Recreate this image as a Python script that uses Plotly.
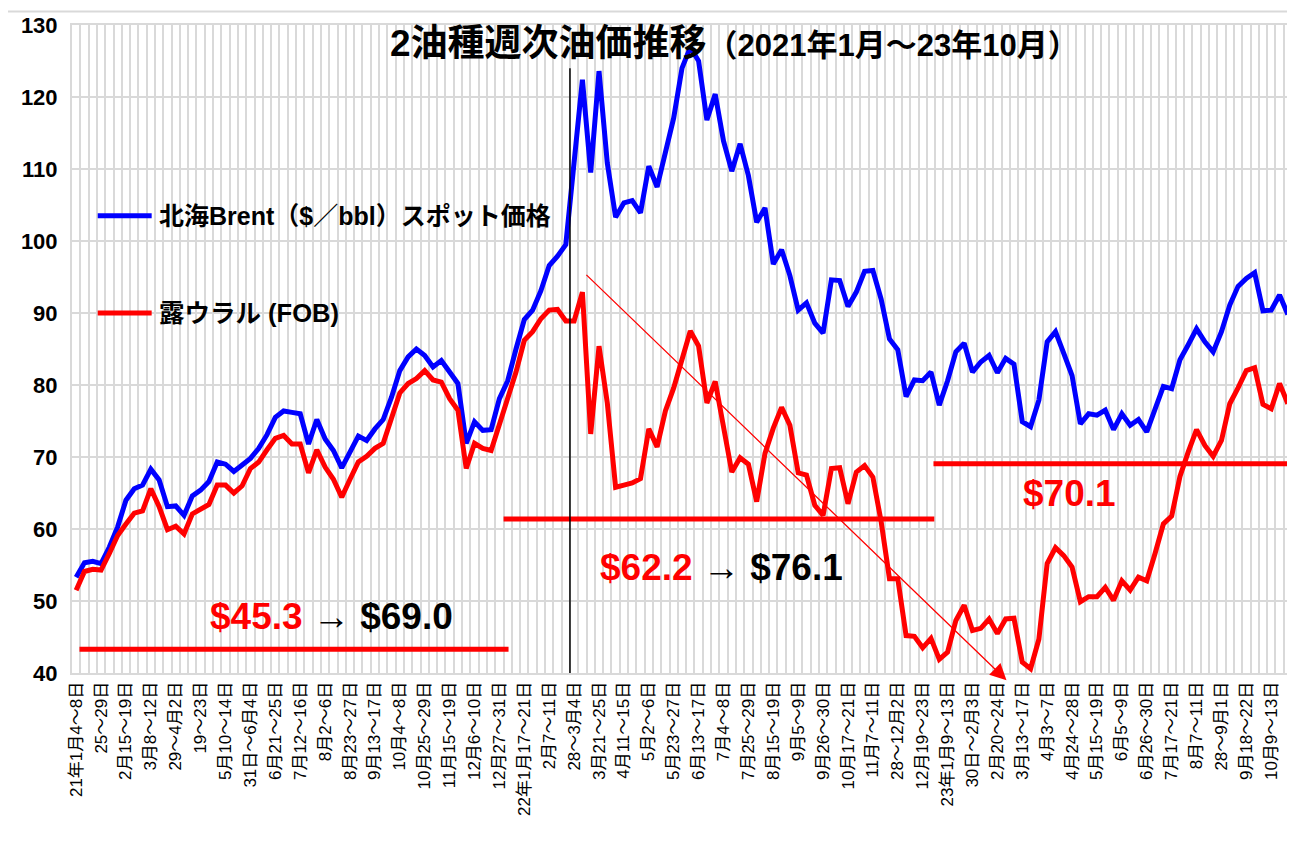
import plotly.graph_objects as go

# ---------------- data ----------------
brent = [53.3, 55.3, 55.5, 55.2, 57.5, 60.3, 64.0, 65.6, 66.1, 68.3,
         66.8, 63.1, 63.2, 61.9, 64.6, 65.4, 66.6, 69.3, 69.0, 68.0,
         68.9, 69.8, 71.2, 73.1, 75.5, 76.4, 76.2, 76.0, 71.8, 75.2,
         72.5, 70.9, 68.5, 70.7, 72.9, 72.3, 73.9, 75.2, 78.3, 82.0,
         83.9, 85.0, 84.1, 82.5, 83.4, 81.8, 80.2, 71.9, 74.9, 73.7,
         73.8, 78.1, 80.6, 85.0, 89.1, 90.4, 93.1, 96.6, 97.9, 99.5,
         111.0, 122.4, 109.5, 123.6, 110.8, 103.3, 105.3, 105.6, 103.9, 110.4,
         107.5, 112.3, 117.1, 124.0, 126.9, 125.0, 116.8, 120.4, 113.9, 109.7,
         113.5, 109.1, 102.6, 104.6, 96.8, 98.8, 95.2, 90.4, 91.4, 88.6,
         87.2, 94.6, 94.5, 90.9, 92.9, 95.8, 95.9, 91.9, 86.4, 84.9,
         78.4, 80.7, 80.6, 81.8, 77.2, 80.6, 84.6, 85.8, 81.8, 83.2,
         84.1, 81.7, 83.7, 82.9, 74.9, 74.2, 77.9, 86.0, 87.4, 84.4,
         81.3, 74.6, 76.0, 75.8, 76.5, 73.8, 76.0, 74.4, 75.2, 73.5,
         76.7, 79.8, 79.5, 83.5, 85.6, 87.8, 86.0, 84.6, 87.4, 91.1,
         93.7, 94.8, 95.6, 90.3, 90.4, 92.5, 89.8]

urals = [51.5, 54.1, 54.4, 54.3, 56.6, 59.1, 60.7, 62.2, 62.5, 65.6,
         63.1, 59.9, 60.4, 59.3, 62.1, 62.7, 63.4, 66.1, 66.1, 65.0,
         66.0, 68.4, 69.3, 71.0, 72.6, 73.0, 71.8, 71.8, 67.8, 71.0,
         68.6, 66.9, 64.4, 66.9, 69.3, 70.1, 71.2, 71.9, 75.6, 78.9,
         80.2, 80.9, 82.0, 80.7, 80.4, 78.1, 76.5, 68.4, 71.9, 71.2,
         70.9, 74.6, 77.9, 81.8, 86.2, 87.4, 89.2, 90.4, 90.5, 88.9,
         88.9, 92.9, 73.2, 85.4, 77.5, 65.8, 66.1, 66.4, 67.0, 73.9,
         71.4, 76.4, 79.6, 83.6, 87.5, 85.4, 77.5, 80.5, 74.5, 67.9,
         69.9, 69.0, 63.8, 70.5, 74.0, 76.9, 74.4, 67.8, 67.5, 63.3,
         61.9, 68.4, 68.5, 63.5, 67.9, 68.8, 67.2, 61.0, 53.1, 53.1,
         45.2, 45.1, 43.5, 44.8, 41.9, 42.9, 47.3, 49.4, 45.9, 46.2,
         47.5, 45.5, 47.5, 47.6, 41.5, 40.6, 44.7, 55.2, 57.4, 56.3,
         54.7, 49.9, 50.6, 50.6, 51.9, 50.1, 52.8, 51.5, 53.3, 52.8,
         56.6, 60.7, 61.8, 67.3, 70.7, 73.8, 71.6, 70.1, 72.3, 77.4,
         79.6, 82.0, 82.4, 77.3, 76.7, 80.2, 77.4]

tick_labels = [
    "21年1月4～8日", "25～29日", "2月15～19日", "3月8～12日", "29～4月2日",
    "19～23日", "5月10～14日", "31日～6月4日", "6月21～25日", "7月12～16日",
    "8月2～6日", "8月23～27日", "9月13～17日", "10月4～8日", "10月25～29日",
    "11月15～19日", "12月6～10日", "12月27～31日", "22年1月17～21日", "2月7～11日",
    "28～3月4日", "3月21～25日", "4月11～15日", "5月2～6日", "5月23～27日",
    "6月13～17日", "7月4～8日", "7月25～29日", "8月15～19日", "9月5～9日",
    "9月26～30日", "10月17～21日", "11月7～11日", "28～12月2日", "12月19～23日",
    "23年1月9～13日", "30日～2月3日", "2月20～24日", "3月13～17日", "4月3～7日",
    "4月24～28日", "5月15～19日", "6月5～9日", "6月26～30日", "7月17～21日",
    "8月7～11日", "28～9月1日", "9月18～22日", "10月9～13日",
]
tick_step = 3

series_names = ["北海Brent（$／bbl）スポット価格", "露ウラル (FOB)"]

# average levels of Urals over three periods: (start idx, end idx, level)
avg_lines = [(0.4, 52.1, 43.3), (51.5, 103.4, 61.4), (103.3, 146.3, 69.05)]
# label texts for the periods
period_texts = [("$45.3", " → ", "$69.0"), ("$62.2", " → ", "$76.1"), ("$70.1", "", "")]
period_text_pos = [(30.8, 47.9), (77.7, 54.7), (119.7, 65.0)]
# trend arrow (start idx, start value, end idx, end value)
trend_arrow = (61.3, 95.5, 112.1, 39.0)
# invasion marker (idx boundary)
event_idx = 59.5

BLUE = "#0000FF"
RED = "#FF0000"
GRID = "#d9d9d9"
FONT = "Liberation Sans, Noto Sans CJK JP, sans-serif"

x = list(range(len(brent)))

fig = go.Figure()
fig.add_trace(go.Scatter(x=x, y=brent, mode="lines", name=series_names[0],
                         line=dict(color=BLUE, width=5), showlegend=False))
fig.add_trace(go.Scatter(x=x, y=urals, mode="lines", name=series_names[1],
                         line=dict(color=RED, width=5), showlegend=False))

shapes = []
for x0, x1, lv in avg_lines:
    shapes.append(dict(type="line", xref="x", yref="y", x0=x0, x1=x1, y0=lv, y1=lv,
                       line=dict(color=RED, width=5), layer="above"))
shapes.append(dict(type="line", xref="x", yref="y", x0=event_idx, x1=event_idx,
                   y0=38.6, y1=124.0, line=dict(color="black", width=1.5)))
# legend samples
shapes.append(dict(type="line", xref="x", yref="y", x0=2.6, x1=9.1, y0=103.5, y1=103.5,
                   line=dict(color=BLUE, width=5)))
shapes.append(dict(type="line", xref="x", yref="y", x0=2.6, x1=9.1, y0=90.0, y1=90.0,
                   line=dict(color=RED, width=5)))
# top border of chart area
shapes.append(dict(type="line", xref="paper", yref="paper", x0=-0.06, x1=1.01,
                   y0=1.021, y1=1.021, line=dict(color=GRID, width=2)))

annotations = []
for (a, arr, b), (px, py) in zip(period_texts, period_text_pos):
    txt = f'<span style="color:{RED}"><b>{a}</b></span>'
    if arr:
        txt += f'<span style="color:black">{arr}</span><b>{b}</b>'
    annotations.append(dict(x=px, y=py, xref="x", yref="y", text=txt, showarrow=False,
                            font=dict(family=FONT, size=37, color="black"),
                            xanchor="center", yanchor="middle"))

ax0, ay0, ax1, ay1 = trend_arrow
annotations.append(dict(x=ax1, y=ay1, ax=ax0, ay=ay0, xref="x", yref="y",
                        axref="x", ayref="y", text="", showarrow=True,
                        arrowhead=2, arrowsize=2.5, arrowwidth=1.3, arrowcolor=RED))

annotations.append(dict(x=9.8, y=103.5, xref="x", yref="y", text=f"<b>{series_names[0]}</b>",
                        showarrow=False, xanchor="left", yanchor="middle",
                        font=dict(family=FONT, size=25, color="black")))
annotations.append(dict(x=9.8, y=90.0, xref="x", yref="y", text=f"<b>{series_names[1]}</b>",
                        showarrow=False, xanchor="left", yanchor="middle",
                        font=dict(family=FONT, size=25.5, color="black")))

annotations.append(dict(x=0.543, y=0.972, xref="paper", yref="paper",
                        text='<b><span style="font-size:37px">2油種週次油価推移</span>'
                             '<span style="font-size:31px">（2021年1月～23年10月）</span></b>',
                        showarrow=False, xanchor="center", yanchor="middle",
                        font=dict(family=FONT, size=37, color="black")))

fig.update_layout(
    width=1287, height=847,
    margin=dict(l=64, r=3, t=17, b=182, autoexpand=False),
    paper_bgcolor="white", plot_bgcolor="white",
    shapes=shapes, annotations=annotations,
    showlegend=False,
    xaxis=dict(
        range=[-0.5, len(brent) - 0.5],
        tickmode="array",
        tickvals=list(range(0, len(brent), tick_step))[:len(tick_labels)],
        ticktext=tick_labels,
        tickangle=-90,
        tickfont=dict(family=FONT, size=17, color="black"),
        showgrid=False,
        minor=dict(tick0=-0.5, dtick=1, showgrid=True, gridcolor=GRID, gridwidth=1.5),
        showline=True, linecolor=GRID, linewidth=2, mirror=True,
        ticks="", zeroline=False, automargin=False,
    ),
    yaxis=dict(
        range=[40, 130], dtick=10, tick0=40,
        tickfont=dict(family=FONT, size=22, color="black", weight="bold"),
        ticklabelstandoff=8,
        showgrid=True, gridcolor=GRID, gridwidth=2,
        showline=True, linecolor=GRID, linewidth=2, mirror=True,
        ticks="", zeroline=False, automargin=False,
    ),
)

fig.write_html("out.html")
